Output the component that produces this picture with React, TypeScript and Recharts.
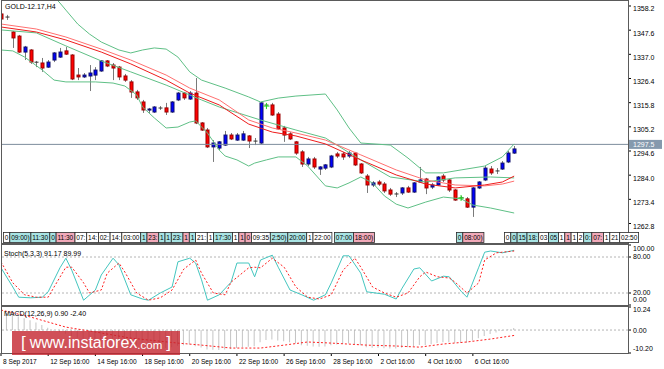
import React from "react";
import { ComposedChart, Bar, Line, XAxis, YAxis, ReferenceLine, Scatter } from "recharts";

const FONT = "'Liberation Sans', Arial, sans-serif";

// ---------- candles (H4, 8 Sep - 6 Oct 2017) ----------
const opens = [1354.7,1353.4,1346.8,1345.0,1338.0,1338.9,1333.6,1333.2,1331.4,1334.5,1335.8,1338.5,1336.7,1327.9,1327.1,1327.5,1327.9,1329.7,1334.1,1332.3,1331.4,1327.5,1324.9,1320.5,1316.1,1312.6,1311.7,1313.5,1313.5,1311.7,1317.0,1320.0,1317.4,1320.0,1306.9,1303.8,1296.4,1295.9,1297.2,1301.6,1299.4,1299.4,1301.2,1299.0,1298.1,1314.8,1314.8,1310.8,1304.7,1302.1,1298.6,1294.2,1288.9,1291.1,1286.7,1287.1,1287.6,1293.3,1293.3,1292.4,1293.7,1288.9,1283.6,1279.7,1281.0,1280.1,1277.5,1275.7,1276.2,1278.4,1276.6,1281.0,1282.3,1278.8,1279.7,1283.6,1281.9,1277.5,1274.0,1273.6,1270.0,1278.4,1281.9,1286.7,1285.8,1286.7,1289.8,1293.7];
const highs = [1355.6,1354.3,1347.2,1345.5,1340.7,1339.3,1334.1,1335.4,1334.5,1338.0,1339.8,1340.2,1337.1,1331.0,1328.8,1332.3,1331.4,1334.5,1334.5,1333.2,1331.9,1328.4,1325.7,1321.4,1317.0,1313.5,1314.3,1314.3,1315.7,1316.5,1320.5,1320.5,1320.9,1326.6,1307.3,1304.7,1299.4,1299.0,1303.4,1302.5,1302.5,1303.4,1301.6,1300.3,1316.1,1315.7,1315.7,1311.7,1305.6,1302.9,1299.0,1295.0,1292.0,1292.0,1288.0,1288.9,1292.9,1294.2,1294.2,1294.6,1294.2,1289.3,1284.5,1281.4,1281.9,1281.0,1278.4,1276.6,1278.8,1279.3,1281.0,1287.6,1282.8,1280.6,1283.6,1284.5,1282.3,1277.9,1274.9,1274.4,1278.8,1281.4,1288.0,1288.0,1287.1,1290.2,1294.6,1296.8];
const lows = [1352.1,1352.1,1339.8,1337.6,1334.5,1332.8,1331.4,1329.3,1331.0,1333.6,1335.4,1336.7,1325.7,1325.7,1326.6,1320.9,1325.7,1329.3,1331.4,1325.7,1325.7,1324.9,1317.9,1317.0,1311.3,1311.3,1311.3,1312.6,1310.4,1311.3,1316.5,1317.0,1317.0,1306.4,1303.4,1295.9,1289.8,1295.0,1296.8,1299.4,1299.0,1299.0,1295.9,1297.2,1297.7,1313.5,1310.0,1303.8,1298.6,1299.4,1292.9,1287.6,1288.0,1286.7,1284.1,1286.3,1287.1,1291.5,1290.7,1291.5,1288.0,1284.5,1276.2,1278.8,1279.3,1276.2,1274.9,1274.4,1275.3,1276.2,1276.2,1280.6,1275.7,1277.9,1279.3,1281.0,1276.6,1272.7,1273.1,1269.6,1265.7,1277.9,1281.4,1284.1,1284.5,1286.3,1289.3,1293.3];
const closes = [1352.5,1353.3,1344.2,1338.0,1340.2,1333.6,1333.5,1331.0,1333.6,1337.6,1338.0,1337.1,1326.2,1327.1,1327.9,1328.8,1330.1,1334.1,1331.9,1331.0,1327.1,1325.7,1320.5,1317.9,1312.6,1313.0,1313.9,1313.4,1311.7,1316.1,1320.0,1317.9,1320.0,1306.9,1303.8,1296.4,1298.1,1298.6,1301.6,1299.9,1301.6,1302.1,1299.0,1298.9,1315.7,1314.7,1310.4,1304.3,1301.6,1299.9,1293.7,1288.9,1291.1,1287.6,1287.6,1288.5,1292.4,1292.4,1292.0,1293.7,1288.5,1285.0,1279.7,1280.6,1280.1,1277.1,1275.7,1275.8,1278.4,1276.6,1280.6,1281.9,1278.4,1279.7,1283.2,1281.9,1277.5,1273.1,1274.1,1270.0,1278.4,1281.0,1287.1,1285.0,1285.9,1289.3,1293.7,1295.5];

// ---------- indicator readings: [bar index, value] ----------
const bbUpperPts: [number, number][] = [[0,1392],[4,1380],[7,1368],[10,1359.5],[11,1356.4],[13,1350.3],[15,1345.9],[17,1342.4],[20,1338.9],[22,1337.6],[24,1338.9],[26,1339.8],[28,1339.3],[30,1335.8],[32,1329.3],[34,1325.7],[38,1322.2],[42,1318.3],[44,1316.1],[47,1317.8],[50,1318.7],[55,1319.6],[57,1312.6],[59,1304.7],[61,1298.1],[66,1297.2],[69,1291.5],[72,1285.0],[75,1285.0],[78,1286.3],[82,1288.0],[85,1292.0],[87,1297.7]];
const bbMidPts: [number, number][] = [[0,1347.7],[6,1346.4],[11,1340.7],[17,1334.1],[22,1329.3],[28,1323.5],[34,1317.0],[37,1313.9],[44,1308.2],[50,1303.8],[55,1300.3],[61,1290.7],[66,1283.2],[72,1281.0],[77,1282.8],[83,1283.2],[87,1282.8]];
const bbLowerPts: [number, number][] = [[0,1338.9],[2,1338.5],[4,1335.8],[7,1330.1],[9,1325.7],[11,1324.9],[16,1324.9],[19,1324.4],[21,1323.1],[23,1319.2],[24,1313.9],[26,1309.1],[28,1304.7],[30,1305.1],[32,1307.3],[33,1307.8],[35,1302.5],[37,1295.0],[38,1292.4],[40,1290.7],[42,1288.0],[43,1289.3],[45,1290.7],[47,1292.0],[50,1292.0],[52,1288.0],[55,1279.3],[57,1278.4],[59,1280.6],[61,1283.2],[63,1280.6],[65,1274.9],[67,1271.3],[69,1269.6],[72,1272.2],[75,1274.4],[78,1273.6],[80,1270.9],[83,1269.6],[87,1267.4]];
const maFastPts: [number, number][] = [[0,1349.0],[6,1346.8],[11,1343.3],[17,1338.0],[22,1332.8],[28,1325.7],[32,1320.0],[37,1314.8],[42,1306.4],[46,1302.9],[50,1301.2],[55,1297.7],[61,1290.7],[67,1284.1],[72,1280.1],[77,1278.4],[82,1279.7],[85,1281.0],[87,1283.6]];
const maSlowPts: [number, number][] = [[0,1350.3],[6,1348.1],[11,1344.6],[17,1339.3],[22,1334.5],[28,1327.9],[32,1322.2],[37,1317.0],[42,1308.2],[46,1304.7],[50,1302.5],[55,1299.4],[61,1292.9],[67,1286.3],[72,1281.9],[77,1279.7],[82,1279.3],[85,1280.1],[87,1281.4]];
const stochMainPts: [number, number][] = [[0,62],[2,30],[3,13],[5,12],[7,13],[8,22],[10,62],[11,78],[12,58],[14,8],[16,25],[17,50],[19,78],[20,67],[22,17],[24,10],[25,8],[27,20],[29,30],[30,72],[32,78],[33,70],[34,42],[35,8],[37,17],[39,38],[40,70],[42,70],[43,47],[44,75],[46,83],[47,63],[49,25],[51,17],[53,8],[55,17],[56,37],[58,82],[59,82],[61,53],[62,22],[65,18],[67,10],[68,28],[70,60],[71,62],[73,40],[75,48],[76,47],[78,23],[79,13],[81,63],[82,88],[83,90],[85,87],[87,91.17]];
const stochSignalPts: [number, number][] = [[0,72],[2,37],[4,17],[6,13],[8,13],[9,30],[11,63],[12,63],[14,37],[15,20],[17,25],[18,53],[20,70],[21,55],[23,20],[25,8],[27,12],[29,25],[31,60],[33,75],[34,53],[36,20],[38,17],[39,38],[42,62],[43,63],[44,62],[46,78],[48,63],[50,30],[52,13],[54,10],[56,17],[58,58],[60,78],[61,63],[63,30],[65,20],[67,13],[69,20],[71,47],[72,55],[74,47],[76,45],[77,38],[79,20],[81,37],[82,75],[84,87],[87,89.99]];
const macdHist = [8.0,7.6,6.9,6.0,5.2,4.3,3.4,2.2,1.0,-0.2,-1.0,-1.6,-2.6,-3.4,-4.0,-4.4,-4.6,-4.5,-4.6,-4.9,-5.3,-5.8,-6.4,-7.0,-7.6,-7.9,-8.0,-8.0,-8.0,-7.6,-7.0,-6.8,-6.4,-7.2,-7.8,-8.6,-8.8,-8.9,-8.6,-8.4,-8.0,-7.6,-7.4,-7.2,-5.4,-4.4,-4.2,-4.6,-5.0,-5.4,-6.0,-6.8,-7.0,-7.3,-7.4,-7.3,-6.8,-6.4,-6.2,-6.0,-6.3,-6.8,-7.6,-7.9,-7.9,-8.1,-8.2,-8.2,-7.9,-7.6,-7.2,-6.7,-6.6,-6.3,-5.8,-5.4,-5.4,-5.6,-5.6,-5.6,-4.6,-3.7,-2.6,-1.8,-1.1,-0.4,0.3,0.9];
const macdSignalPts: [number, number][] = [[0,8.9],[5,5.8],[11,1.3],[17,-1.3],[22,-3.6],[30,-5.8],[34,-6.7],[39,-8.0],[44,-8.0],[48,-6.7],[52,-5.3],[56,-5.8],[62,-6.7],[67,-7.1],[71,-7.6],[75,-6.2],[79,-5.3],[83,-4.0],[87,-2.4]];
const tradeMarks: [number, number][] = [[45,1314.3],[78,1274.0]];

// ---------- axes ----------
const priceTicks = [1358.2,1347.6,1337.0,1326.4,1315.8,1305.2,1294.6,1284.0,1273.4,1262.8];
const lastPrice = 1297.5;
const stochTicks = [100,80,20,0];
const stochLevels = [80,20];
const macdTicks = [10.24,0,-10.2];
const timeTickIdx = [0,8,16,24,32,40,48,56,64,72,80];
const timeTickLabels = ["8 Sep 2017","12 Sep 16:00","14 Sep 16:00","18 Sep 16:00","20 Sep 16:00","22 Sep 16:00","26 Sep 16:00","28 Sep 16:00","2 Oct 16:00","4 Oct 16:00","6 Oct 16:00"];

// ---------- event labels along the bottom of the price panel ----------
const eventGroups: { start: number; items: [string, string][] }[] = [
  { start: 3, items: [["0","w"],["09:00)","c"],["11:30","c"],["0","c"],["11:30","p"],["07:","w"],["14:","w"],["02:","w"],["14:","w"],["03:00","w"],["1","c"],["23:","p"],["1","c"],["1","c"],["23:","c"],["1","p"],["1","c"],["21:","w"],["1","w"],["17:30","c"],["1","w"],["1","p"],["0","p"],["09:35","w"],["2:50)","c"],["20:00","c"],["1","w"],["22:00","w"]] },
  { start: 334, items: [["07:00","c"],["18:00)","p"]] },
  { start: 456, items: [["0","c"],["08:00)","p"]] },
  { start: 504, items: [["0","w"],["0","c"],["15","c"],["18:","c"],["03","w"],["05","c"],["1","w"],["1","p"],["1","w"],["2","w"],["0:","c"],["07:","p"],["1","w"],["21","w"],["02:50","w"]] },
];

const X_DOMAIN: [number, number] = [0, 106.3];
const GREEN = "#5fc086";

type Row = { [k: string]: number | undefined };
const rows: Row[] = opens.map((o, i) => ({ i, o, h: highs[i], l: lows[i], c: closes[i], macd: macdHist[i] }));
const put = (key: string, pts: [number, number][]) => pts.forEach(([i, v]) => { rows[i][key] = v; });
put("bbU", bbUpperPts); put("bbM", bbMidPts); put("bbL", bbLowerPts);
put("maF", maFastPts); put("maS", maSlowPts);
put("stM", stochMainPts); put("stS", stochSignalPts);
put("mSig", macdSignalPts); put("mark", tradeMarks);

const Candle = (props: any) => {
  const { x, y, width, height, payload } = props;
  if (!payload || payload.o == null) return null;
  const { o, h, l, c } = payload;
  const span = h - l || 1;
  const py = (v: number) => y + ((h - v) / span) * height;
  const cx = Math.round(x + width / 2) + 0.5;
  const top = py(Math.max(o, c));
  const bot = py(Math.min(o, c));
  const up = c > o;
  const doji = Math.abs(c - o) < 0.2;
  return (
    <g>
      <line x1={cx} x2={cx} y1={py(h)} y2={py(l)} stroke="#7a7a7a" strokeWidth={1} />
      {doji ? (
        <line x1={cx - 2} x2={cx + 2} y1={(top + bot) / 2} y2={(top + bot) / 2} stroke="#303030" strokeWidth={1} />
      ) : (
        <rect x={cx - 1.5} y={top} width={3} height={Math.max(bot - top, 1)}
          fill={up ? "#0000ff" : "#ff0000"} stroke={up ? "#10106a" : "#9a0000"} strokeWidth={1} />
      )}
    </g>
  );
};

const Cross = (props: any) => {
  const { cx, cy, payload } = props;
  if (!payload || payload.mark == null || !isFinite(cy)) return null;
  return (
    <g stroke="#22dd22" strokeWidth={1}>
      <line x1={cx - 3} x2={cx + 3} y1={cy} y2={cy} />
      <line x1={cx} x2={cx} y1={cy - 3} y2={cy + 3} />
    </g>
  );
};

const makeTick = (fmt: (v: number) => string, shift: (v: number) => number) => (p: any) => (
  <text x={p.x} y={p.y + shift(p.payload.value)} dy="0.35em" fontSize={7} fontFamily={FONT} fill="#000" textAnchor="start">
    {fmt(p.payload.value)}
  </text>
);
const PriceTick = makeTick((v) => v.toFixed(1), () => 3);
const StochTick = makeTick((v) => v.toFixed(2), (v) => (v === 100 ? 4 : v === 0 ? -5 : 0));
const MacdTick = makeTick((v) => v.toFixed(2), (v) => (v > 5 ? 3 : v < -5 ? -4 : 0.5));

const TimeTick = (p: any) => {
  const k = timeTickIdx.indexOf(p.payload.value);
  return (
    <text x={p.x + 2} y={p.y + 5.5} fontSize={6.6} fontFamily={FONT} fill="#000" textAnchor="start">
      {timeTickLabels[k]}
    </text>
  );
};

const LastPriceLabel = (p: any) => {
  const vb = p.viewBox || {};
  const x = vb.x + vb.width + 1;
  const y = vb.y;
  return (
    <g>
      <rect x={x} y={y - 4.5} width={33} height={9} fill="#8599ad" />
      <text x={x + 4} y={y} dy="0.35em" fontSize={7} fontFamily={FONT} fill="#ffffff">{lastPrice.toFixed(1)}</text>
    </g>
  );
};

const CW: Record<string, number> = { ":": 1.8, ")": 2.2 };
const textW = (s: string) => s.split("").reduce((a, ch) => a + (CW[ch] ?? 3.6), 0);
const boxFill: Record<string, string> = { w: "#ffffff", c: "#a8e4e4", p: "#f2a9b9" };

const EventBoxes = () => {
  const out: React.ReactNode[] = [];
  eventGroups.forEach((g, gi) => {
    let x = g.start;
    g.items.forEach(([t, k], ii) => {
      const w = textW(t) + 2.7;
      out.push(
        <g key={gi + "-" + ii}>
          <rect x={x + 0.5} y={232.5} width={w} height={10} fill={boxFill[k]} stroke="#2a2a2a" strokeWidth={0.8} />
          <text x={x + 1.85} y={240.2} fontSize={6.5} fontFamily={FONT} fill="#000">{t}</text>
        </g>
      );
      x += w;
    });
  });
  return <>{out}</>;
};

const common = { width: 664, data: rows };

export default function App() {
  return (
    <div style={{ position: "absolute", left: 0, top: 0, width: 664, height: 369, background: "#fff", overflow: "hidden" }}>
      <div style={{ position: "absolute", left: 0, top: 0 }}>
        <ComposedChart {...common} height={244} margin={{ top: 1, right: 0, bottom: 1, left: 1 }}>
          <XAxis dataKey="i" type="number" domain={X_DOMAIN} hide allowDataOverflow />
          <YAxis orientation="right" width={36} domain={[1254.25, 1360.39]} allowDataOverflow ticks={priceTicks}
            interval={0} tick={PriceTick} tickSize={3} tickMargin={2} tickLine={{ stroke: "#000" }} axisLine={false} />
          <ReferenceLine y={lastPrice} stroke="#7d8c9c" strokeWidth={1} label={LastPriceLabel} />
          <Bar dataKey={(d: any) => [d.l, d.h]} barSize={4} shape={Candle} isAnimationActive={false} />
          <Line dataKey="bbU" stroke={GREEN} strokeWidth={1} dot={false} connectNulls isAnimationActive={false} />
          <Line dataKey="bbL" stroke={GREEN} strokeWidth={1} dot={false} connectNulls isAnimationActive={false} />
          <Line dataKey="bbM" stroke={GREEN} strokeWidth={1} dot={false} connectNulls isAnimationActive={false} />
          <Line dataKey="maS" stroke="#ff7070" strokeWidth={1} dot={false} connectNulls isAnimationActive={false} />
          <Line dataKey="maF" stroke="#ee1c1c" strokeWidth={1} dot={false} connectNulls isAnimationActive={false} />
          <Scatter dataKey="mark" shape={Cross} isAnimationActive={false} />
        </ComposedChart>
      </div>
      <div style={{ position: "absolute", left: 0, top: 244 }}>
        <ComposedChart {...common} height={62} margin={{ top: 1, right: 0, bottom: 1, left: 1 }}>
          <XAxis dataKey="i" type="number" domain={X_DOMAIN} hide allowDataOverflow />
          <YAxis orientation="right" width={36} domain={[0, 100]} allowDataOverflow ticks={stochTicks} interval={0}
            tick={StochTick} tickSize={3} tickMargin={2} tickLine={{ stroke: "#000" }} axisLine={false} />
          {stochLevels.map((v) => (
            <ReferenceLine key={v} y={v} stroke="#b4b4b4" strokeDasharray="2 2" />
          ))}
          <Line dataKey="stM" stroke="#44c6bf" strokeWidth={1} dot={false} connectNulls isAnimationActive={false} />
          <Line dataKey="stS" stroke="#ff2020" strokeWidth={1} strokeDasharray="2 2" dot={false} connectNulls isAnimationActive={false} />
        </ComposedChart>
      </div>
      <div style={{ position: "absolute", left: 0, top: 306 }}>
        <ComposedChart {...common} height={63} margin={{ top: 1, right: 0, bottom: 1, left: 1 }}>
          <XAxis dataKey="i" type="number" domain={X_DOMAIN} allowDataOverflow ticks={timeTickIdx} interval={0}
            height={15} tick={TimeTick} tickSize={3} tickLine={{ stroke: "#000" }} axisLine={false} />
          <YAxis orientation="right" width={36} domain={[-10.2, 10.24]} allowDataOverflow ticks={macdTicks} interval={0}
            tick={MacdTick} tickSize={3} tickMargin={2} tickLine={{ stroke: "#000" }} axisLine={false} />
          <ReferenceLine y={0} stroke="#b4b4b4" strokeDasharray="2 2" />
          <Bar dataKey="macd" barSize={1} fill="#c4c4c4" isAnimationActive={false} />
          <Line dataKey="mSig" stroke="#ff2020" strokeWidth={1} strokeDasharray="2 2" dot={false} connectNulls isAnimationActive={false} />
        </ComposedChart>
      </div>
      <svg width={664} height={369} style={{ position: "absolute", left: 0, top: 0, pointerEvents: "none" }}>
        <g fill="none" stroke="#5a5a5a" strokeWidth={1}>
          <rect x={1.5} y={0.5} width={627} height={243} />
          <rect x={1.5} y={244.5} width={627} height={61} />
          <rect x={1.5} y={306.5} width={627} height={47} />
        </g>
        <EventBoxes />
        <text x={5} y={8.5} fontSize={7} fontFamily={FONT} fill="#000">GOLD-12.17,H4</text>
        <text x={4} y={255.5} fontSize={7} fontFamily={FONT} fill="#000">Stoch(5,3,3) 91.17 89.99</text>
        <text x={4} y={315.5} fontSize={7} fontFamily={FONT} fill="#000">MACD(12,26,9) 0.90 -2.40</text>
      </svg>
      <div style={{ position: "absolute", left: 12, top: 331, width: 168, height: 24, background: "rgba(196,36,46,0.8)",
        color: "#fff", fontFamily: FONT, display: "flex", alignItems: "center", justifyContent: "center", whiteSpace: "nowrap" }}>
        <span style={{ fontSize: 17, fontWeight: 300, marginRight: 4 }}>[</span>
        <span style={{ fontSize: 16 }}>www.instaforex</span>
        <span style={{ fontSize: 11.5, marginTop: 3 }}>.com</span>
        <span style={{ fontSize: 17, fontWeight: 300, marginLeft: 4 }}>]</span>
      </div>
    </div>
  );
}
